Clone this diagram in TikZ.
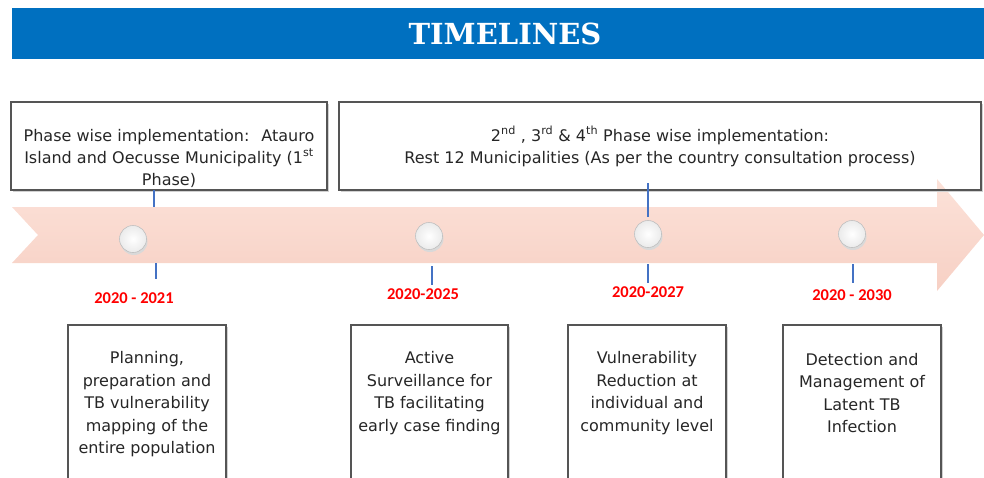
\documentclass[tikz,border=0pt]{standalone}
\usepackage{fontspec}
\setmainfont{DejaVu Sans}
\newfontfamily\titlefont{DejaVu Serif}
\newfontfamily\yearfont{Carlito}
\definecolor{titleblue}{HTML}{0070C0}
\definecolor{tickblue}{HTML}{4472C4}
\definecolor{peachtop}{HTML}{FCE2D9}
\definecolor{peachbot}{HTML}{F7D0C4}
\definecolor{yearred}{HTML}{FF0000}
\definecolor{boxgray}{HTML}{555555}
\begin{document}
\begin{tikzpicture}[x=1pt,y=-1pt,
  frame/.style={draw=boxgray, line width=1.1pt, inner sep=0pt},
  shadowline/.style={draw=black!18, line width=1.6pt},
  boxtext/.style={align=center, inner sep=0pt, font=\fontsize{16}{22}\selectfont, text=black!85},
  lowtext/.style={align=center, inner sep=0pt, font=\fontsize{16}{22.5}\selectfont, text=black!85},
  year/.style={inner sep=0pt, text=yearred, font=\yearfont\bfseries\fontsize{16.5}{18}\selectfont},
  tick/.style={draw=tickblue, line width=1.4pt},
  dot/.style={circle, minimum size=27pt, inner sep=0pt, draw=black!25, line width=0.6pt, inner color=white, outer color=black!8}
]
\useasboundingbox (0,0) rectangle (984,477);

% title bar
\fill[titleblue] (12,8) rectangle (984,59);
\node[text=white, font=\titlefont\bfseries\fontsize{29}{31}\selectfont] (title) at (505,34) {TIMELINES};

% big arrow
\shade[top color=peachtop, bottom color=peachbot]
  (12,207) -- (937,207) -- (937,179) -- (984,235) -- (937,291) -- (937,263) -- (12,263) -- (38,235) -- cycle;

% top boxes
\draw[shadowline] (328.5,104) -- (328.5,191.5) -- (13,191.5);
\draw[shadowline] (982.5,104) -- (982.5,191.5) -- (341,191.5);
\node[frame, minimum width=316pt, minimum height=88pt] (box1) at (169,146) {};
\node[frame, minimum width=642pt, minimum height=88pt] (box2) at (660,146) {};
\node[boxtext] (t1) at (169,158) {Phase wise implementation:~ Atauro\\Island and Oecusse Municipality (1\textsuperscript{st}\\Phase)};
\node[boxtext] (t2) at (660,146.5) {2\textsuperscript{nd} , 3\textsuperscript{rd} \& 4\textsuperscript{th} Phase wise implementation:\\Rest 12 Municipalities (As per the country consultation process)};

% circles
\fill[black!15] (134,241.5) circle (13.5pt);
\node[dot] (c1) at (133,239) {};
\fill[black!15] (430,238.5) circle (13.5pt);
\node[dot] (c2) at (429,236) {};
\fill[black!15] (649,236.5) circle (13.5pt);
\node[dot] (c3) at (648,234) {};
\fill[black!15] (853,236.5) circle (13.5pt);
\node[dot] (c4) at (852,234) {};

% ticks
\coordinate (u1) at (154,207);
\coordinate (u2) at (648,217);
\draw[tick] (154,190) -- (u1);
\draw[tick] (648,183) -- (u2);
\coordinate (d1a) at (156,263); \coordinate (d1b) at (156,279);
\coordinate (d2a) at (432,266); \coordinate (d2b) at (432,285);
\coordinate (d3a) at (648,264); \coordinate (d3b) at (648,283);
\coordinate (d4a) at (853,264); \coordinate (d4b) at (853,283);
\draw[tick] (d1a) -- (d1b);
\draw[tick] (d2a) -- (d2b);
\draw[tick] (d3a) -- (d3b);
\draw[tick] (d4a) -- (d4b);

% year labels
\node[year] (y1) at (134,298) {2020 - 2021};
\node[year] (y2) at (423,294) {2020-2025};
\node[year] (y3) at (648,292) {2020-2027};
\node[year] (y4) at (852,295) {2020 - 2030};

% bottom boxes
\foreach \l/\r in {68/226, 351/508, 568/726, 783/941} {
  \draw[shadowline] (\r+1.5,327) -- (\r+1.5,490);
}
\draw[frame] (68,490) -- (68,325) -- (226,325) -- (226,490);
\draw[frame] (351,490) -- (351,325) -- (508,325) -- (508,490);
\draw[frame] (568,490) -- (568,325) -- (726,325) -- (726,490);
\draw[frame] (783,490) -- (783,325) -- (941,325) -- (941,490);
\node[lowtext] (b1) at (147,404.5) {Planning,\\preparation and\\TB vulnerability\\mapping of the\\entire population};
\node[lowtext] (b2) at (429.5,393) {Active\\Surveillance for\\TB facilitating\\early case finding};
\node[lowtext] (b3) at (647,393) {Vulnerability\\Reduction at\\individual and\\community level};
\node[lowtext] (b4) at (862,393) {Detection and\\Management of\\Latent TB\\Infection};
\end{tikzpicture}
\end{document}
